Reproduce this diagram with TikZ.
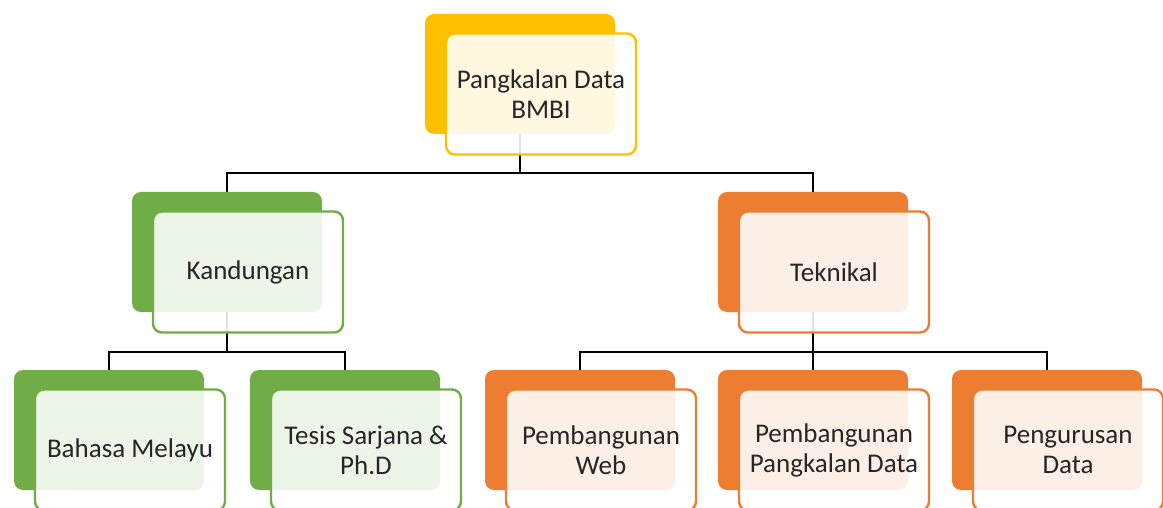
\documentclass[tikz,border=0pt]{standalone}
\usepackage{fontspec}
\setmainfont{Carlito}
\usetikzlibrary{positioning,backgrounds}
\definecolor{topyellow}{HTML}{FFC000}
\definecolor{leafgreen}{HTML}{70AD47}
\definecolor{techorange}{HTML}{ED7D31}
\tikzset{%
back/.style={fill=#1,rounded corners=9pt,minimum width=190pt,minimum height=120pt,inner sep=0},
front/.style={draw=#1,line width=2.4pt,fill=white,fill opacity=0.88,text opacity=1,rounded corners=9pt,
  minimum width=190pt,minimum height=121pt,inner sep=0,align=center,text=black!85,
  font=\fontsize{27}{30}\selectfont},
link/.style={draw,line width=2.2pt}
}

\begin{document}
\begin{tikzpicture}[x=1pt,y=-1pt]

    \useasboundingbox (0,0) rectangle (1163,508);

    \node[back=topyellow]  (root)  at (520,74)    {};
    \node[front=topyellow] (rootf) at ([shift={(21,20)}]root) {Pangkalan Data\\BMBI};

    \node[back=leafgreen]  (kand)  at (227,252)   {};
    \node[front=leafgreen] (kandf) at ([shift={(21,20)}]kand) {Kandungan};
    \node[back=techorange]  (tek)  at (813,252)   {};
    \node[front=techorange] (tekf) at ([shift={(21,20)}]tek) {Teknikal};

    \node[back=leafgreen]  (bm)    at (109,430)   {};
    \node[front=leafgreen] (bmf)   at ([shift={(21,20)}]bm) {Bahasa Melayu};
    \node[back=leafgreen]  (tesis) at (345,430)   {};
    \node[front=leafgreen] (tesisf) at ([shift={(21,20)}]tesis) {Tesis Sarjana \&\\Ph.D};

    \node[back=techorange]  (web)  at (580,430)   {};
    \node[front=techorange] (webf) at ([shift={(21,20)}]web) {Pembangunan\\Web};
    \node[back=techorange]  (ppd)  at (813,430)   {};
    \node[front=techorange] (ppdf) at ([shift={(21,20)}]ppd) {Pembangunan\\Pangkalan Data};
    \node[back=techorange]  (urus) at (1047,430)  {};
    \node[front=techorange] (urusf) at ([shift={(21,20)}]urus) {Pengurusan\\Data};

    \begin{scope}[on background layer]
    \path[link] (root.south) -- ++(0,39) -| (kand.north)
                (root.south) -- ++(0,39) -| (tek.north);
    \path[link] (kand.south) -- ++(0,40) -| (bm.north)
                (kand.south) -- ++(0,40) -| (tesis.north);
    \path[link] (tek.south) -- ++(0,40) -| (web.north)
                (tek.south) -- ++(0,40) -| (ppd.north)
                (tek.south) -- ++(0,40) -| (urus.north);
    \end{scope}

  \end{tikzpicture}
\end{document}
